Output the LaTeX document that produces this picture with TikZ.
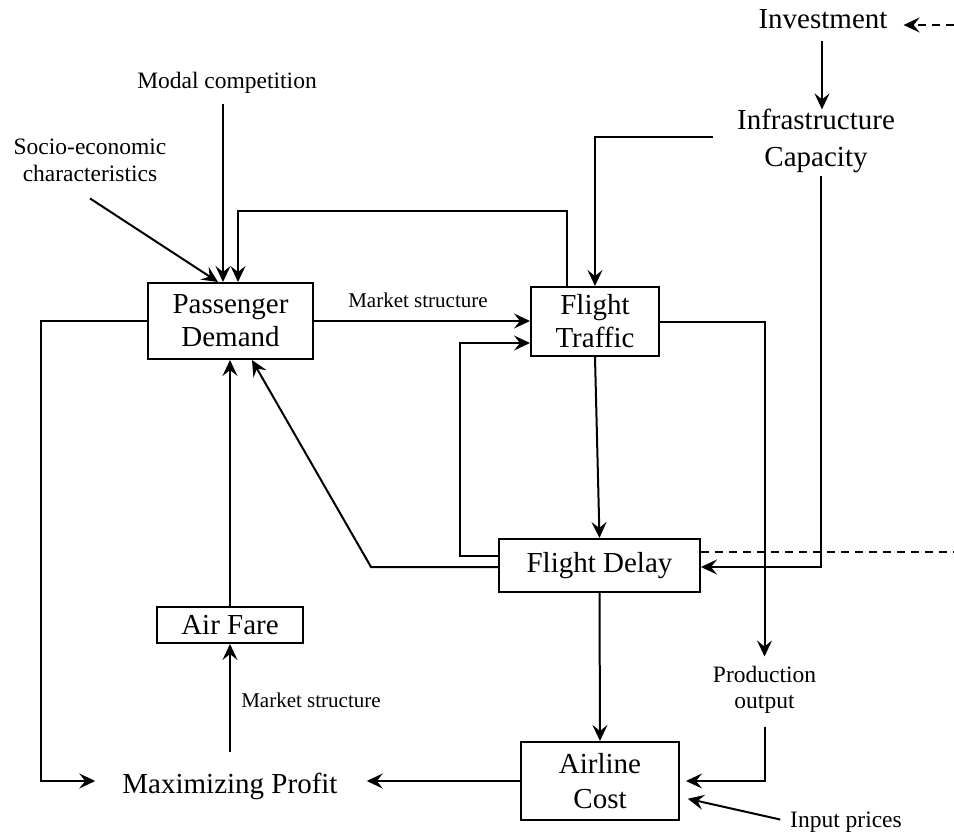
\documentclass[tikz,border=0pt]{standalone}
\usepackage{fontspec}
\setmainfont{Liberation Serif}
\usetikzlibrary{arrows.meta,calc}
\begin{document}
\begin{tikzpicture}[x=1pt,y=-1pt,
  box/.style={draw,line width=2pt,inner sep=0pt,align=center,font=\fontsize{29}{33}\selectfont},
  big/.style={inner sep=0pt,align=center,font=\fontsize{29}{33}\selectfont},
  small/.style={inner sep=0pt,align=center,font=\fontsize{23.5}{27}\selectfont},
  mkt/.style={inner sep=0pt,font=\fontsize{21}{24}\selectfont},
  arr/.style={line width=2pt,-{Stealth[length=16pt,width=15pt,inset=6pt]}},
  ln/.style={line width=2pt},
]
\useasboundingbox (0,0) rectangle (954,832);

% boxes
\node[box,minimum width=165pt,minimum height=76pt] (PD) at (230.5,321) {Passenger\\Demand};
\node[box,minimum width=128pt,minimum height=69pt] (FT) at (595,321.5) {Flight\\Traffic};
\node[box,minimum width=201pt,minimum height=53pt] (FD) at (599.5,565.5) {Flight Delay};
\node[box,minimum width=146pt,minimum height=36pt] (AF) at (230,625) {Air Fare};
\node[box,minimum width=158pt,minimum height=78pt,font=\fontsize{29}{35}\selectfont] (AC) at (600,781) {Airline\\Cost};

% free texts
\node[big,anchor=base] (Inv) at (823,29) {Investment};
\node[big,anchor=base,font=\fontsize{29}{37}\selectfont] (Infra) at (816,167) {Infrastructure\\Capacity};
\node[small,anchor=base] (MC) at (227,89) {Modal competition};
\node[small,anchor=base] (SE) at (90,182) {Socio-economic\\characteristics};
\node[big,anchor=base] (MP) at (230,793) {Maximizing Profit};
\node[small,anchor=base,font=\fontsize{23.5}{26}\selectfont] (PO) at (764.5,708) {Production\\output};
\node[small,anchor=base] (IP) at (846,827) {Input prices};
\node[mkt,anchor=base] (MS1) at (418,307) {Market structure};
\node[mkt,anchor=base] (MS2) at (311,707) {Market structure};

% free ends
\coordinate (dsrc) at (954,25);
\coordinate (infraW) at (713,137);
\coordinate (infraS) at (821,176);
\coordinate (dashR) at (954,552);

% connectors
\draw[arr,shorten <=12pt] (Inv.south -| 822,0) -- (Infra.north -| 822,0);
\draw[arr,dash pattern=on 8pt off 6pt,shorten >=16pt] (dsrc) -- (Inv.east |- dsrc);
\draw[arr] (infraW) -| (FT.north);
\draw[arr] (infraS) |- ([yshift=-1.5pt]FD.east);
\draw[ln,dash pattern=on 8pt off 6pt] ([yshift=13.5pt]FD.east) -- (dashR);
\draw[arr] ([xshift=-28pt]FT.north) -- ++(0,-75) -| ([xshift=7.5pt]PD.north);
\draw[arr,shorten <=10pt] ([xshift=-4pt]MC.south) -- ([xshift=-7.5pt]PD.north);
\draw[arr] ($(SE.south)+(0,16)$) -- ([xshift=-12.5pt]PD.north);
\draw[arr] (PD.east) -- (PD.east -| FT.west);
\draw[arr] ([yshift=9.5pt]FD.west) -- ++(-38,0) |- ([yshift=-21.5pt]FT.west);
\draw[arr] ([yshift=-1.5pt]FD.west) -- ++(-127,0) -- ([xshift=21.5pt]PD.south);
\draw[arr] (FT.south) -- (FD.north);
\draw[arr,shorten >=9pt] (FT.east) -| (PO.north);
\draw[arr,shorten <=14pt,shorten >=6pt] (PO.south) |- (AC.east);
\draw[arr] (FD.south) -- (AC.north);
\draw[arr,shorten >=29pt] (AC.west) -- (AC.west -| MP.east);
\draw[arr,shorten <=10pt,shorten >=8pt] (IP.west) -- ([yshift=-16pt]AC.east);
\draw[arr,shorten >=27pt] (PD.west) -- ++(-106,0) |- (MP.west |- AC.west);
\draw[arr,shorten <=20pt] (MP.north) -- (AF.south);
\draw[arr] (AF.north) -- (AF.north |- PD.south);
\end{tikzpicture}
\end{document}
